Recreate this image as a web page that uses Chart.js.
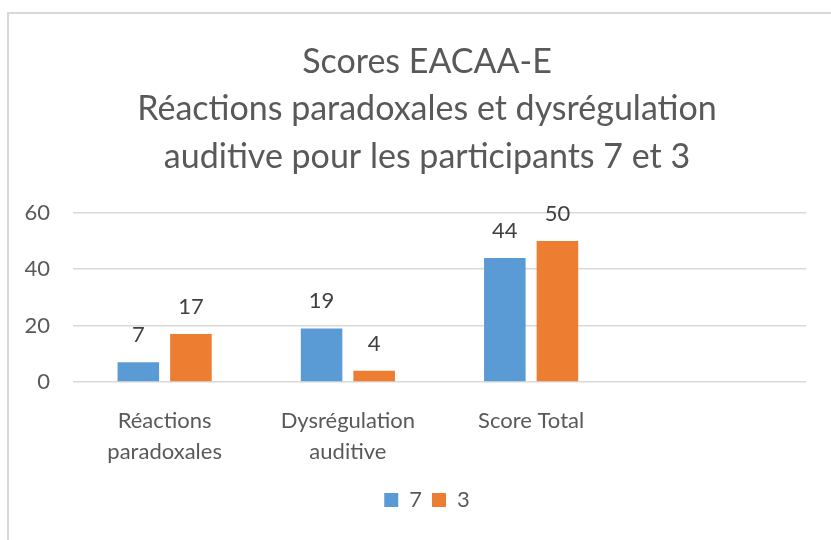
<!DOCTYPE html>
<html>
<head>
<meta charset="utf-8">
<script src="https://cdn.jsdelivr.net/npm/chart.js@4"></script>
<style>
  html, body { margin: 0; padding: 0; background: #fff; overflow: hidden; }
  #frame {
    position: absolute; left: 7px; top: 12px;
    width: 836px; height: 526px;
    border-left: 2px solid #d9d9d9; border-top: 2px solid #d9d9d9;
  }
</style>
</head>
<body>
<div id="frame"><canvas id="chart"></canvas></div>
<script>
// data
const categories = [['Réactions', 'paradoxales'], ['Dysrégulation', 'auditive'], 'Score Total', ''];
const seriesNames = ['7', '3'];
const values7 = [7, 19, 44, null];
const values3 = [17, 4, 50, null];
const yTicks = [0, 20, 40, 60];
const titleLines = ['Scores EACAA-E', 'Réactions paradoxales et dysrégulation', 'auditive pour les participants 7 et 3'];

const BLUE = '#5b9bd5';
const ORANGE = '#ed7d31';
const FONT = 'Lato';

// little plugin for the value labels above bars
const barValues = {
  id: 'barValues',
  afterDatasetsDraw(chart) {
    const ctx = chart.ctx;
    ctx.save();
    ctx.font = '22px ' + FONT;
    ctx.fillStyle = '#404040';
    ctx.textAlign = 'center';
    ctx.textBaseline = 'alphabetic';
    chart.data.datasets.forEach((ds, i) => {
      chart.getDatasetMeta(i).data.forEach((bar, j) => {
        if (ds.data[j] == null) return;
        ctx.fillText(String(ds.data[j]), bar.x, bar.y - 20);
      });
    });
    ctx.restore();
  }
};

new Chart(document.getElementById('chart'), {
  type: 'bar',
  data: {
    labels: categories,
    datasets: [
      { label: seriesNames[0], data: values7, backgroundColor: BLUE },
      { label: seriesNames[1], data: values3, backgroundColor: ORANGE }
    ]
  },
  options: {
    responsive: true,
    maintainAspectRatio: false,
    animation: false,
    categoryPercentage: 0.574,
    barPercentage: 0.79,
    layout: { padding: { left: 0, right: 0, top: 0, bottom: 19 } },
    plugins: {
      title: {
        display: true,
        text: titleLines,
        color: '#595959',
        font: { family: FONT, size: 34, weight: 'normal', lineHeight: 1.4 },
        padding: { top: 24, bottom: 32 }
      },
      legend: {
        position: 'bottom',
        labels: {
          color: '#595959',
          font: { family: FONT, size: 22 },
          boxWidth: 14,
          boxHeight: 14,
          padding: 10
        }
      },
      tooltip: { enabled: false }
    },
    scales: {
      x: {
        grid: { display: false },
        border: { display: false },
        ticks: {
          color: '#595959',
          font: { family: FONT, size: 22, lineHeight: 1.42 },
          padding: 15,
          maxRotation: 0,
          autoSkip: false
        },
        afterFit(scale) { scale.height = 97; }
      },
      y: {
        min: 0,
        max: 60,
        afterBuildTicks(scale) { scale.ticks = yTicks.map(v => ({ value: v })); },
        grid: { color: '#d9d9d9', lineWidth: 1.5, drawTicks: false },
        border: { display: false },
        ticks: {
          color: '#595959',
          font: { family: FONT, size: 22 },
          padding: 23
        },
        afterFit(scale) { scale.width = 64; }
      },
      // empty right-hand axis, only keeps the plot clear of the right edge
      yRight: {
        position: 'right',
        min: 0,
        max: 60,
        grid: { display: false },
        border: { display: false },
        ticks: { display: false },
        afterFit(scale) { scale.width = 39; }
      }
    }
  },
  plugins: [barValues]
});
</script>
</body>
</html>
